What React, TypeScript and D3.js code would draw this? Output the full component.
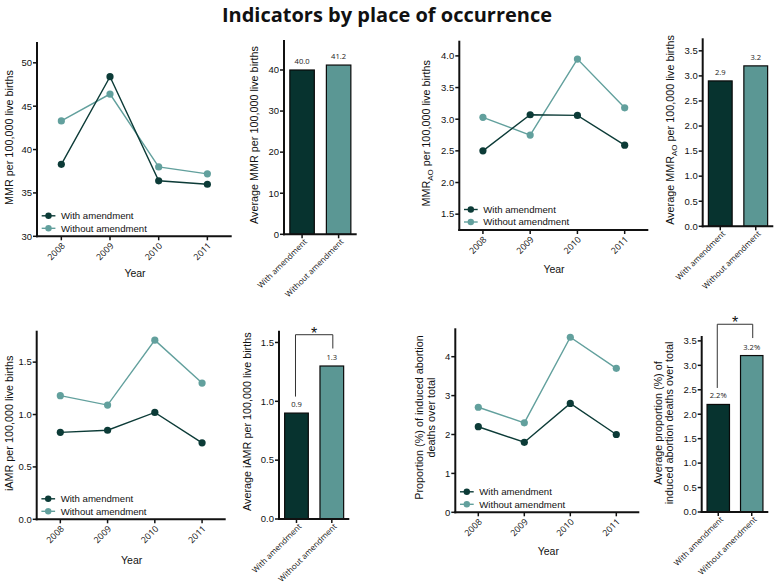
import React from "react";
import * as d3 from "d3";

const years = ["2008", "2009", "2010", "2011"];
const groups = ["With amendment", "Without amendment"];

const mmrWith = [38.3, 48.4, 36.4, 36.0];
const mmrWithout = [43.3, 46.4, 38.0, 37.2];
const mmrAvg = [40.0, 41.2];
const mmrAvgLabels = ["40.0", "41.2"];
const mmrTicks = [30, 35, 40, 45, 50];
const mmrAvgTicks = [0, 10, 20, 30, 40];

const aoWith = [2.5, 3.07, 3.06, 2.59];
const aoWithout = [3.03, 2.75, 3.95, 3.18];
const aoAvg = [2.9, 3.2];
const aoAvgLabels = ["2.9", "3.2"];
const aoTicks = [1.5, 2.0, 2.5, 3.0, 3.5, 4.0];
const aoAvgTicks = [0, 0.5, 1.0, 1.5, 2.0, 2.5, 3.0, 3.5];

const iamrWith = [0.83, 0.85, 1.02, 0.73];
const iamrWithout = [1.18, 1.09, 1.71, 1.3];
const iamrAvg = [0.9, 1.3];
const iamrAvgLabels = ["0.9", "1.3"];
const iamrTicks = [0, 0.5, 1.0, 1.5];
const iamrAvgTicks = [0, 0.5, 1.0, 1.5];

const propWith = [2.2, 1.8, 2.8, 2.0];
const propWithout = [2.7, 2.3, 4.5, 3.7];
const propAvg = [2.2, 3.2];
const propAvgLabels = ["2.2%", "3.2%"];
const propTicks = [0, 1, 2, 3, 4];
const propAvgTicks = [0, 0.5, 1.0, 1.5, 2.0, 2.5, 3.0, 3.5];

const DARK = "#07332f";
const LIGHT = "#5b9794";
const DARK_LINE = "#0c3b37";
const LIGHT_LINE = "#62a09d";
const AX = "#111";
const SANS = "'Liberation Sans', Arial, sans-serif";
const SOFT = "'Open Sans', 'DejaVu Sans', sans-serif";

type LineProps = {
  left: number; right: number; top: number; bottom: number;
  domain: [number, number]; ticks: number[]; fmt: (v: number) => string;
  a: number[]; b: number[];
  yLabel: React.ReactNode; yLabelX: number; yLabelY: number;
  xTitleX: number; xTitleY: number;
};

function LinePanel(p: LineProps) {
  const x = d3.scalePoint<string>().domain(years).range([p.left, p.right]).padding(0.5);
  const y = d3.scaleLinear().domain(p.domain).range([p.bottom, p.top]);
  const line = d3.line<number>().x((_, i) => x(years[i]) as number).y((v) => y(v));
  const series = [
    { vals: p.a, color: DARK_LINE, name: groups[0] },
    { vals: p.b, color: LIGHT_LINE, name: groups[1] },
  ];
  return (
    <g>
      {series.slice().reverse().map((s, k) => (
        <g key={k}>
          <path d={line(s.vals) || ""} fill="none" stroke={s.color} strokeWidth={1.4} />
          {s.vals.map((v, i) => (
            <circle key={i} cx={x(years[i])} cy={y(v)} r={3.6} fill={s.color} />
          ))}
        </g>
      ))}
      {series.map((s, k) => {
        const ly = p.bottom - 20.5 + k * 12.5;
        return (
          <g key={k}>
            <line x1={p.left + 4.7} x2={p.left + 18.4} y1={ly} y2={ly} stroke={s.color} strokeWidth={1.4} />
            <circle cx={p.left + 11.5} cy={ly} r={3.2} fill={s.color} />
            <text x={p.left + 24} y={ly} dy="0.35em" fontSize={9.6} fontFamily={SANS} fill="#111">{s.name}</text>
          </g>
        );
      })}
      <line x1={p.left} x2={p.left} y1={p.top} y2={p.bottom + 1} stroke={AX} strokeWidth={2} />
      <line x1={p.left - 1} x2={p.right} y1={p.bottom} y2={p.bottom} stroke={AX} strokeWidth={2} />
      {p.ticks.map((t, i) => (
        <g key={i}>
          <line x1={p.left - 4} x2={p.left} y1={y(t)} y2={y(t)} stroke={AX} strokeWidth={1.5} />
          <text x={p.left - 5} y={y(t)} dy="0.35em" textAnchor="end" fontSize={9.5} fontFamily={SANS} fill="#111">{p.fmt(t)}</text>
        </g>
      ))}
      {years.map((yr, i) => {
        const xx = x(yr) as number;
        return (
          <g key={i}>
            <line x1={xx} x2={xx} y1={p.bottom} y2={p.bottom + 4} stroke={AX} strokeWidth={1.5} />
            <text transform={`translate(${xx + 2},${p.bottom + 8}) rotate(-45)`} dy="0.35em" textAnchor="end" fontSize={8.8} fontFamily={SOFT} fill="#111">{yr}</text>
          </g>
        );
      })}
      <text x={p.xTitleX} y={p.xTitleY} dy="0.35em" textAnchor="middle" fontSize={10.5} fontFamily={SANS} fill="#111">Year</text>
      <text transform={`translate(${p.yLabelX},${p.yLabelY}) rotate(-90)`} dy="0.35em" textAnchor="middle" fontSize={10.8} fontFamily={SANS} fill="#111">{p.yLabel}</text>
    </g>
  );
}

type BarProps = {
  left: number; right: number; top: number; bottom: number;
  max: number; ticks: number[]; fmt: (v: number) => string;
  vals: number[]; labels: string[];
  yLabel: React.ReactNode; yLabelX: number; yLabelY: number;
  star?: boolean;
};

function BarPanel(p: BarProps) {
  const x = d3.scaleBand<string>().domain(groups).range([p.left, p.right]).paddingInner(0.33).paddingOuter(0.16);
  const y = d3.scaleLinear().domain([0, p.max]).range([p.bottom, p.top]);
  const fills = [DARK, LIGHT];
  let bracket: React.ReactNode = null;
  if (p.star) {
    const cx0 = (x(groups[0]) as number) + x.bandwidth() / 2 - 1;
    const cx1 = (x(groups[1]) as number) + x.bandwidth() / 2 + 1;
    const l0 = y(p.vals[0]) - 16.5;
    const l1 = y(p.vals[1]) - 17.5;
    const top = Math.min(l0, l1) - 13.8;
    bracket = (
      <g>
        <path d={`M${cx0},${l0}V${top}H${cx1}V${l1}`} fill="none" stroke="#333" strokeWidth={1} />
        <text x={(cx0 + cx1) / 2} y={top + 4} textAnchor="middle" fontSize={16} fontFamily={SANS} fill="#111">*</text>
      </g>
    );
  }
  return (
    <g>
      {groups.map((g, i) => {
        const bx = x(g) as number;
        return (
          <g key={i}>
            <rect x={bx} y={y(p.vals[i])} width={x.bandwidth()} height={p.bottom - y(p.vals[i])} fill={fills[i]} stroke="#0a0a0a" strokeWidth={1.2} />
            <text x={bx + x.bandwidth() / 2} y={y(p.vals[i]) - 6} textAnchor="middle" fontSize={7.6} fontFamily={SOFT} fill="#222">{p.labels[i]}</text>
          </g>
        );
      })}
      {bracket}
      <line x1={p.left} x2={p.left} y1={p.top} y2={p.bottom + 1} stroke={AX} strokeWidth={2} />
      <line x1={p.left - 1} x2={p.right} y1={p.bottom} y2={p.bottom} stroke={AX} strokeWidth={2} />
      {p.ticks.map((t, i) => (
        <g key={i}>
          <line x1={p.left - 4} x2={p.left} y1={y(t)} y2={y(t)} stroke={AX} strokeWidth={1.5} />
          <text x={p.left - 5} y={y(t)} dy="0.35em" textAnchor="end" fontSize={9.5} fontFamily={SANS} fill="#111">{p.fmt(t)}</text>
        </g>
      ))}
      {groups.map((g, i) => {
        const xx = (x(g) as number) + x.bandwidth() / 2;
        return (
          <g key={i}>
            <line x1={xx} x2={xx} y1={p.bottom} y2={p.bottom + 4} stroke={AX} strokeWidth={1.5} />
            <text transform={`translate(${xx + 3.5},${p.bottom + 6}) rotate(-45)`} dy="0.35em" textAnchor="end" fontSize={8.1} fontFamily={SOFT} fill="#111">{g}</text>
          </g>
        );
      })}
      <text transform={`translate(${p.yLabelX},${p.yLabelY}) rotate(-90)`} dy="0.35em" textAnchor="middle" fontSize={10.8} fontFamily={SANS} fill="#111">{p.yLabel}</text>
    </g>
  );
}

const f0 = (v: number) => d3.format("d")(v);
const f1 = (v: number) => d3.format(".1f")(v);

function AO() {
  return <tspan fontSize={8} dy="3">AO</tspan>;
}

export default function App() {
  return (
    <svg width={775} height={586} style={{ position: "absolute", left: 0, top: 0, background: "#fff" }}>
      <rect width={775} height={586} fill="#fff" />
      <text x={387} y={15} dy="0.35em" textAnchor="middle" fontSize={20} fontWeight="bold" fontFamily={SOFT} fill="#111">Indicators by place of occurrence</text>

      <LinePanel left={37} right={231.7} top={42} bottom={236.3} domain={[30, 52.4]} ticks={mmrTicks} fmt={f0}
        a={mmrWith} b={mmrWithout} yLabel="MMR per 100,000 live births" yLabelX={9} yLabelY={137.5} xTitleX={135} xTitleY={273} />
      <BarPanel left={284} right={356.7} top={40} bottom={234.3} max={47.3} ticks={mmrAvgTicks} fmt={f0}
        vals={mmrAvg} labels={mmrAvgLabels} yLabel="Average MMR per 100,000 live births" yLabelX={254} yLabelY={135} />

      <LinePanel left={459.3} right={648.3} top={40.7} bottom={230} domain={[1.25, 4.24]} ticks={aoTicks} fmt={f1}
        a={aoWith} b={aoWithout}
        yLabel={<><tspan>MMR</tspan><AO /><tspan dy="-3"> per 100,000 live births</tspan></>}
        yLabelX={426} yLabelY={133.3} xTitleX={554} xTitleY={269.3} />
      <BarPanel left={702.7} right={773.3} top={38.3} bottom={226.3} max={3.75} ticks={aoAvgTicks} fmt={f1}
        vals={aoAvg} labels={aoAvgLabels}
        yLabel={<><tspan>Average MMR</tspan><AO /><tspan dy="-3"> per 100,000 live births</tspan></>}
        yLabelX={670} yLabelY={130} />

      <LinePanel left={36.7} right={225.7} top={330.7} bottom={519.3} domain={[0, 1.8]} ticks={iamrTicks} fmt={f1}
        a={iamrWith} b={iamrWithout} yLabel="iAMR per 100,000 live births" yLabelX={9} yLabelY={423.3} xTitleX={131.7} xTitleY={560} />
      <BarPanel left={279} right={349.3} top={330.7} bottom={519} max={1.6} ticks={iamrAvgTicks} fmt={f1}
        vals={iamrAvg} labels={iamrAvgLabels} yLabel="Average iAMR per 100,000 live births" yLabelX={247.5} yLabelY={421.7} star />

      <LinePanel left={455.3} right={639.3} top={328.3} bottom={512.3} domain={[0, 4.73]} ticks={propTicks} fmt={f0}
        a={propWith} b={propWithout}
        yLabel={<><tspan x={0} dy="-0.1em">Proportion (%) of induced abortion</tspan><tspan x={0} dy="1.15em">deaths over total</tspan></>}
        yLabelX={424} yLabelY={417.5} xTitleX={548.3} xTitleY={551.7} />
      <BarPanel left={701.7} right={768.3} top={336} bottom={512} max={3.6} ticks={propAvgTicks} fmt={f1}
        vals={propAvg} labels={propAvgLabels}
        yLabel={<><tspan x={0} dy="-0.1em">Average proportion (%) of</tspan><tspan x={0} dy="1.05em">induced abortion deaths over total</tspan></>}
        yLabelX={663} yLabelY={423} star />
    </svg>
  );
}
